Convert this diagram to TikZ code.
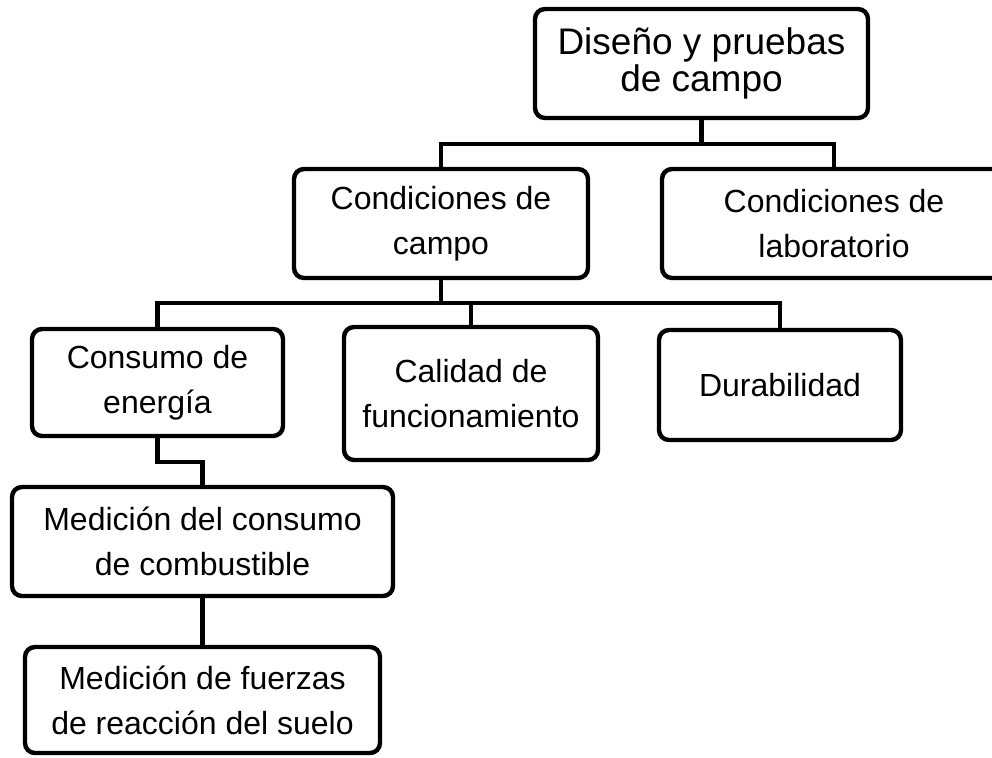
\documentclass[tikz,border=0pt]{standalone}
\usepackage{fontspec}
\setmainfont{Liberation Sans}
\usepackage{tikz}
\usetikzlibrary{positioning}

\begin{document}
\begin{tikzpicture}[x=0.5pt,y=-0.5pt]
                \tikzstyle{caja} = [shape=rectangle, draw=black, line width=2.2pt, rounded corners=5pt, inner sep=0pt, align=center, font=\fontsize{16pt}{22.5pt}\selectfont];
                \tikzstyle{linea} = [line width=2.2pt];

                \useasboundingbox (0,0) rectangle (992,757);

                \node[caja, minimum width=166.5pt, minimum height=54.5pt, font=\fontsize{18.5pt}{18.5pt}\selectfont](D) at (701.5,63.5) {Diseño y pruebas\\de campo};
                \node[caja, minimum width=147pt, minimum height=54.5pt](C) at (441,223.5) {Condiciones de\\campo};
                \node[caja, minimum width=172pt, minimum height=54.5pt](L) at (834,223.5) {Condiciones de\\laboratorio};
                \node[caja, minimum width=125.5pt, minimum height=53.5pt](E) at (157.5,382.5) {Consumo de\\energía};
                \node[caja, minimum width=127pt, minimum height=66.5pt](F) at (471,393.5) {Calidad de\\funcionamiento};
                \node[caja, minimum width=121pt, minimum height=55pt](U) at (780,385) {Durabilidad};
                \node[caja, minimum width=190.5pt, minimum height=54.5pt](M) at (202.5,541.5) {Medición del consumo\\de combustible};
                \node[caja, minimum width=177.5pt, minimum height=53pt](S) at (202.5,700) {Medición de fuerzas\\de reacción del suelo};

                \coordinate (b1) at (0,144);
                \coordinate (b2) at (0,303);
                \coordinate (b3) at (0,462);

                \draw[linea] (D.south) -- (D.south |- b1) -| (C.north);
                \draw[linea] (D.south |- b1) -| (L.north);
                \draw[linea] (C.south) -- (C.south |- b2) -| (E.north);
                \draw[linea] (C.south |- b2) -| (F.north);
                \draw[linea] (C.south |- b2) -| (U.north);
                \draw[linea] (E.south) -- (E.south |- b3) -| (M.north);
                \draw[linea] (M.south) -- (S.north);
            \end{tikzpicture}
\end{document}
